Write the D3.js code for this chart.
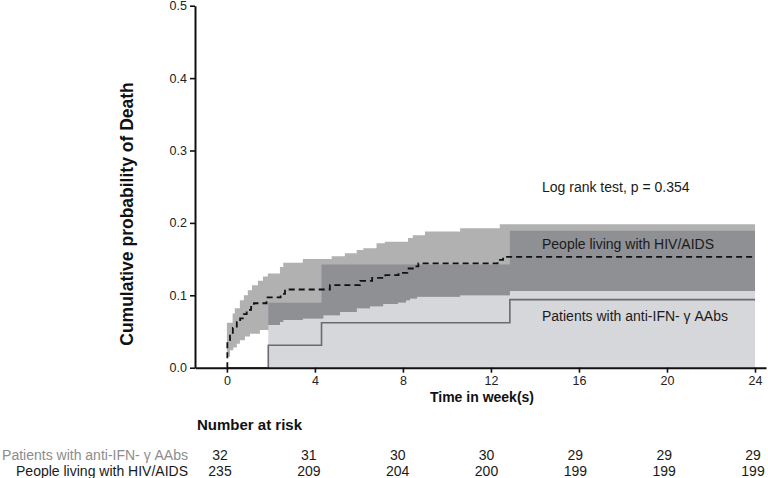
<!DOCTYPE html>
<html><head><meta charset="utf-8">
<script src="https://cdn.jsdelivr.net/npm/d3@7"></script>
<style>body{margin:0;background:#fff} svg{display:block;font-family:"Liberation Sans",Arial,sans-serif}</style>
</head><body>
<svg id="chart" width="768" height="478"></svg>
<script>
// ---- data ----
const xTicks = [0, 4, 8, 12, 16, 20, 24];
const yTicks = [0, 0.1, 0.2, 0.3, 0.4, 0.5];
const groups = ["Patients with anti-IFN- γ AAbs", "People living with HIV/AIDS"];

const antiTime = [0, 1.88, 4.3, 12.86, 24];
const antiCum  = [0, 0.031, 0.062, 0.094, 0.094];
const antiCITime = [1.88, 4.3, 12.86, 24];
const antiUpper  = [0.0896, 0.1427, 0.189, 0.189];
const antiLower  = [0, 0, 0, 0];

const hivTime = [0, 0.02, 0.14, 0.27, 0.45, 0.6, 0.77, 0.9, 1.1, 1.23, 1.8, 2.44, 2.64, 4.68, 6.05, 6.6, 7.2, 7.8, 8.2, 8.55, 8.7, 12.3, 12.55, 24];
const hivCum  = [0, 0.038, 0.047, 0.055, 0.063, 0.068, 0.074, 0.080, 0.084, 0.089, 0.097, 0.102, 0.108, 0.114, 0.120, 0.124, 0.128, 0.131, 0.137, 0.140, 0.144, 0.149, 0.153, 0.153];

const hivUpperTime = [0, 0.26, 0.36, 0.59, 0.77, 0.95, 1.14, 1.41, 1.64, 1.86, 2.41, 2.56, 3.45, 4.76, 5.36, 5.9, 6.2, 6.8, 7.18, 8.23, 8.45, 9.0, 10.6, 12.4, 24];
const hivUpper     = [0.062, 0.075, 0.082, 0.093, 0.100, 0.107, 0.114, 0.120, 0.126, 0.130, 0.139, 0.145, 0.150, 0.154, 0.158, 0.1625, 0.165, 0.172, 0.174, 0.179, 0.183, 0.188, 0.1925, 0.198, 0.198];
const hivLowerTime = [0, 0.14, 0.29, 0.45, 0.59, 0.82, 1.05, 1.5, 1.88, 2.41, 2.56, 3.45, 4.38, 5.14, 5.9, 6.5, 7.1, 7.77, 8.14, 8.32, 8.64, 10.6, 12.86, 24];
const hivLower     = [0.015, 0.024, 0.028, 0.033, 0.038, 0.043, 0.047, 0.052, 0.059, 0.063, 0.066, 0.068, 0.0726, 0.077, 0.082, 0.085, 0.088, 0.090, 0.093, 0.0957, 0.098, 0.100, 0.106, 0.106];

const riskTimes = [0, 4, 8, 12, 16, 20, 24];
const riskAnti  = [32, 31, 30, 30, 29, 29, 29];
const riskHiv   = [235, 209, 204, 200, 199, 199, 199];

// ---- chart ----
const svg = d3.select("#chart");
const x = d3.scaleLinear().domain([-1.45, 24.5]).range([195, 766]);
const y = d3.scaleLinear().domain([0, 0.5]).range([367.7, 5.7]);
const tableX = d3.scaleLinear().domain([0, 24]).range([220, 753]);

const stepAt = (times, vals, t) => vals[Math.max(0, d3.bisectRight(times, t) - 1)];

// HIV band grid
const hivGrid = Array.from(new Set(hivUpperTime.concat(hivLowerTime))).sort((a, b) => a - b)
  .map(t => ({t, lo: stepAt(hivLowerTime, hivLower, t), hi: stepAt(hivUpperTime, hivUpper, t)}));
const antiBand = antiCITime.map((t, i) => ({t, lo: antiLower[i], hi: antiUpper[i]}));

const area = d3.area().curve(d3.curveStepAfter)
  .x(d => x(d.t)).y0(d => y(d.lo)).y1(d => y(d.hi));

svg.append("defs").append("clipPath").attr("id", "antiClip")
  .append("path").attr("d", area(antiBand));

svg.append("path").attr("d", area(antiBand)).attr("fill", "#d6d7db");
svg.append("path").attr("d", area(hivGrid)).attr("fill", "#b1b1b1");
svg.append("path").attr("d", area(hivGrid)).attr("fill", "#8f9094").attr("clip-path", "url(#antiClip)");

const line = d3.line().curve(d3.curveStepAfter).x(d => x(d[0])).y(d => y(d[1]));
svg.append("path").attr("d", line(antiTime.map((t, i) => [t, antiCum[i]])))
  .attr("fill", "none").attr("stroke", "#6a6b70").attr("stroke-width", 1.6);
svg.append("path").attr("d", line(hivTime.map((t, i) => [t, hivCum[i]])))
  .attr("fill", "none").attr("stroke", "#111").attr("stroke-width", 1.8).attr("stroke-dasharray", "6,4");

// axes
const yAxis = svg.append("g").attr("transform", `translate(${x.range()[0]},0)`)
  .call(d3.axisLeft(y).tickValues(yTicks).tickFormat(d3.format(".1f")).tickSize(5).tickSizeOuter(0).tickPadding(3));
const xAxis = svg.append("g").attr("transform", `translate(0,${y(0)})`)
  .call(d3.axisBottom(x).tickValues(xTicks).tickSize(5).tickSizeOuter(0).tickPadding(3));
[yAxis, xAxis].forEach(g => {
  g.select(".domain").attr("stroke", "#111").attr("stroke-width", 2);
  g.selectAll(".tick line").attr("stroke", "#111").attr("stroke-width", 1.6);
  g.selectAll(".tick text").attr("fill", "#222").style("font-size", "12.5px").style("font-family", "'Liberation Sans',Arial,sans-serif");
});

svg.append("text").attr("transform", "translate(132.5,214) rotate(-90)")
  .attr("text-anchor", "middle").attr("font-weight", "bold").attr("font-size", 17.5).attr("fill", "#111")
  .text("Cumulative probability of Death");
svg.append("text").attr("x", 482).attr("y", 402).attr("text-anchor", "middle")
  .attr("font-weight", "bold").attr("font-size", 14).attr("fill", "#111").text("Time in week(s)");

svg.append("text").attr("x", 542).attr("y", 192).attr("font-size", 14).attr("fill", "#1a1a1a").text("Log rank test, p = 0.354");
svg.append("text").attr("x", 542).attr("y", 249).attr("font-size", 14).attr("fill", "#1a1a1a").text(groups[1]);
svg.append("text").attr("x", 542).attr("y", 320.5).attr("font-size", 14).attr("fill", "#1a1a1a").text(groups[0]);

// number at risk table
svg.append("text").attr("x", 197).attr("y", 430).attr("font-weight", "bold").attr("font-size", 15).attr("fill", "#111").text("Number at risk");
const rows = [{label: groups[0], vals: riskAnti, color: "#8c8c8c", yy: 459.5}, {label: groups[1], vals: riskHiv, color: "#1a1a1a", yy: 476}];
rows.forEach(r => {
  svg.append("text").attr("x", 188).attr("y", r.yy).attr("text-anchor", "end").attr("font-size", 14).attr("fill", r.color).text(r.label);
  svg.append("g").selectAll("text").data(r.vals).join("text")
    .attr("x", (d, i) => tableX(riskTimes[i])).attr("y", r.yy).attr("text-anchor", "middle")
    .attr("font-size", 14).attr("fill", "#1a1a1a").text(d => d);
});
</script>
</body></html>
